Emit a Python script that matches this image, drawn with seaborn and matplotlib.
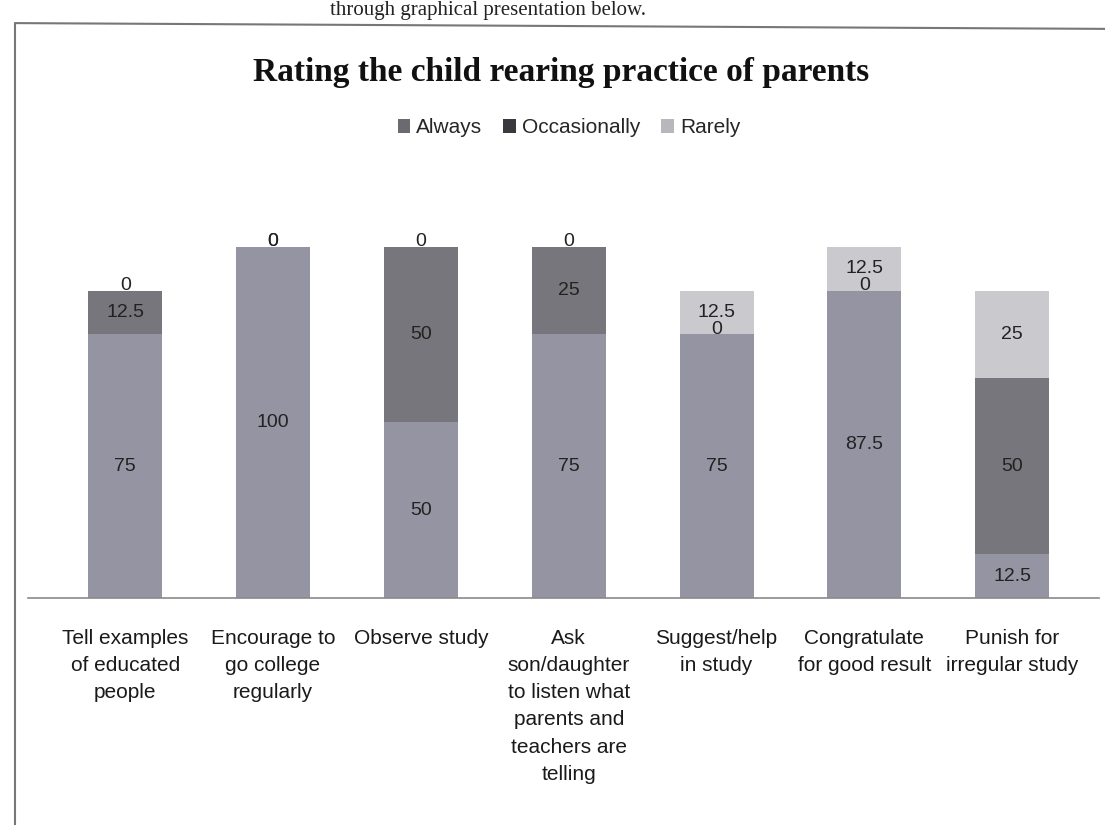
import numpy as np
import pandas as pd
import seaborn as sns
import matplotlib.pyplot as plt
from matplotlib.patches import Patch
from matplotlib.lines import Line2D

sns.set_style('white')
plt.rcParams['font.family'] = ['Liberation Sans', 'DejaVu Sans']

# data
practices = ['Tell examples\nof educated\npeople',
             'Encourage to\ngo college\nregularly',
             'Observe study',
             'Ask\nson/daughter\nto listen what\nparents and\nteachers are\ntelling',
             'Suggest/help\nin study',
             'Congratulate\nfor good result',
             'Punish for\nirregular study']
always = [75, 100, 50, 75, 75, 87.5, 12.5]
occasionally = [12.5, 0, 50, 25, 0, 0, 50]
rarely = [0, 0, 0, 0, 12.5, 12.5, 25]

series = ['Always', 'Occasionally', 'Rarely']
colors = ['#9494a2', '#76767c', '#cacace']

df = pd.DataFrame({'practice': practices, 'Always': always,
                   'Occasionally': occasionally, 'Rarely': rarely})
df['cum_occ'] = df['Always'] + df['Occasionally']
df['cum_rare'] = df['cum_occ'] + df['Rarely']

fig = plt.figure(figsize=(11.05, 8.25), dpi=100)
ax = fig.add_axes([0.025, 0.275, 0.97, 0.49])

# stacked bars: draw the cumulative totals from tallest to shortest
for col, c in zip(['cum_rare', 'cum_occ', 'Always'], colors[::-1]):
    sns.barplot(data=df, x='practice', y=col, color=c, width=0.5,
                saturation=1, linewidth=0, ax=ax)

# segment value labels
for i in range(len(df)):
    base = 0
    for s in series:
        v = df[s].iloc[i]
        y = base + v / 2
        if v == 0:
            y = base + 1.5
        ax.text(i, y, f'{v:g}', ha='center', va='center', fontsize=14, color='#222222')
        base += v

ax.set_xlim(-0.66, 6.59)
ax.set_ylim(0, 115)
ax.set_xlabel('')
ax.set_ylabel('')
ax.set_yticks([])
ax.tick_params(axis='x', length=0, pad=22)
plt.setp(ax.get_xticklabels(), fontsize=15, linespacing=1.55, color='#1a1a1a')
for side in ['top', 'right', 'left']:
    ax.spines[side].set_visible(False)
ax.spines['bottom'].set_color('#8a8a8a')
ax.spines['bottom'].set_linewidth(1.2)

# title and legend
fig.text(0.508, 0.912, 'Rating the child rearing practice of parents',
         ha='center', va='center', fontsize=24, fontweight='bold',
         family=['Liberation Serif', 'DejaVu Serif'], color='#111111')
handles = [Patch(facecolor=c, edgecolor='none') for c in ['#6a6a70', '#3a3a3e', '#b8b8bc']]
fig.legend(handles, series, loc='center', bbox_to_anchor=(0.515, 0.845), ncol=3,
           frameon=False, fontsize=15, handlelength=0.6, handleheight=0.6,
           handletextpad=0.3, columnspacing=1.0)

# page frame and text line from the scanned page
fig.add_artist(Line2D([0.014, 0.014], [0.0, 0.972], color='#777777', lw=1.5))
fig.add_artist(Line2D([0.014, 1.0], [0.972, 0.965], color='#777777', lw=1.5))
fig.text(0.585, 0.999, 'through graphical presentation below.', ha='right', va='top',
         fontsize=15, family=['Liberation Serif', 'DejaVu Serif'], color='#222222')

fig.savefig('out.png', dpi=100)
